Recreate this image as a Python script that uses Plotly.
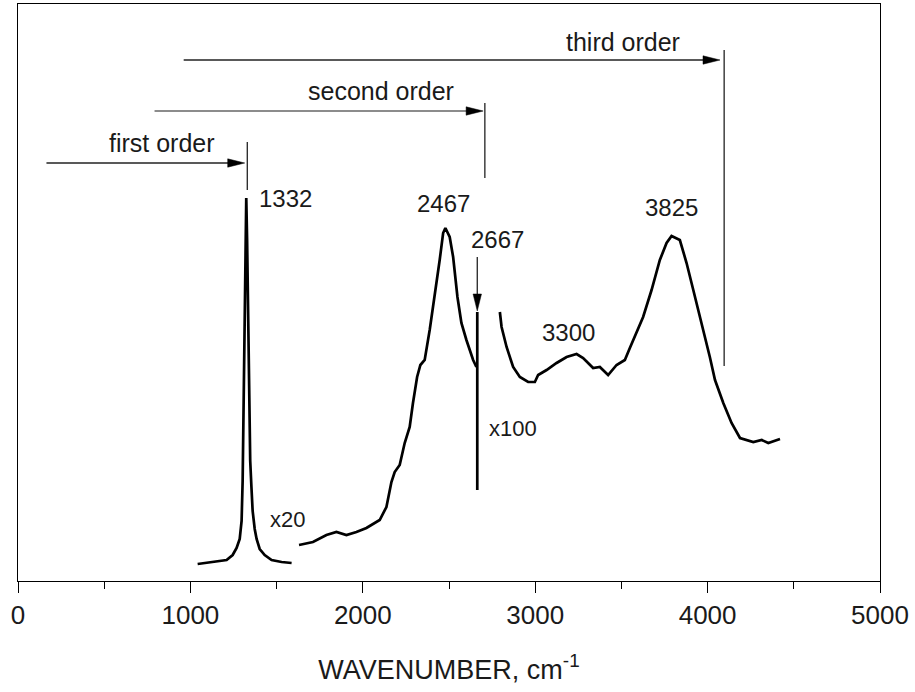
import plotly.graph_objects as go

# ---- data (wavenumber, cm^-1 ; intensity in arbitrary units) ----
first_wn = [1042, 1140, 1210, 1245, 1268, 1286, 1297, 1303, 1309, 1315, 1320, 1324,
            1329, 1335, 1341, 1347, 1354, 1361, 1373, 1384, 1402, 1431, 1471, 1529, 1587]
first_int = [17, 19, 21, 26, 33, 42, 60, 100, 170, 250, 330, 383,
             340, 250, 170, 120, 94, 70, 52, 42, 32, 26, 21, 19, 18]

second_wn = [1630, 1711, 1789, 1847, 1905, 1963, 2021, 2098, 2137, 2166, 2185, 2214,
             2243, 2272, 2291, 2315, 2334, 2359, 2388, 2417, 2446, 2466, 2479, 2504,
             2524, 2549, 2572, 2601, 2640, 2659]
second_int = [36, 39, 46, 49, 46, 49, 53, 61, 74, 99, 109, 116,
              138, 154, 178, 204, 216, 221, 251, 284, 321, 348, 353, 344,
              324, 284, 258, 241, 221, 214]

line2667_wn = [2664, 2664]
line2667_int = [269, 91]

third_wn = [2795, 2805, 2834, 2872, 2911, 2959, 2998, 3017, 3066, 3124, 3182, 3240,
            3278, 3336, 3375, 3423, 3472, 3520, 3549, 3578, 3626, 3675, 3723, 3762,
            3791, 3839, 3878, 3917, 3965, 4013, 4043, 4091, 4139, 4188, 4265, 4314,
            4352, 4420]
third_int = [269, 254, 234, 214, 204, 199, 199, 206, 211, 218, 224, 227,
             223, 213, 214, 206, 216, 221, 233, 244, 264, 291, 321, 338,
             345, 341, 318, 291, 258, 224, 201, 178, 158, 143, 139, 141,
             138, 142]

# order arrows: label, label x, label y, arrow start, arrow tip, arrow y, marker x, marker y0, marker y1
order_labels = ["first order", "second order", "third order"]
order_label_x = [833, 2104, 3508]
order_label_y = [438, 490, 539]
order_arrow_start = [165, 792, 961]
order_arrow_tip = [1315, 2698, 4072]
order_arrow_y = [418, 470, 521]
order_marker_x = [1330, 2708, 4096]
order_marker_y0 = [439, 478, 531]
order_marker_y1 = [391, 403, 215]
order_colors = ["#222222", "#666666", "#222222"]

peak_labels = ["1332", "2467", "2667", "3300", "3825"]
peak_label_x = [1553, 2470, 2783, 3195, 3793]
peak_label_y = [383, 378, 342, 249, 374]

scale_labels = ["x20", "x100"]
scale_label_x = [1564, 2870]
scale_label_y = [62, 153]

down_arrow_x = 2664
down_arrow_y = [324, 270]

x_ticks = [0, 1000, 2000, 3000, 4000, 5000]

FONT = "Liberation Sans, Arial, sans-serif"
TXT = "#1a1a1a"

fig = go.Figure()
for xs, ys in [(first_wn, first_int), (second_wn, second_int),
               (line2667_wn, line2667_int), (third_wn, third_int)]:
    fig.add_trace(go.Scatter(x=xs, y=ys, mode="lines",
                             line=dict(color="black", width=2.7),
                             showlegend=False, hoverinfo="skip"))

shapes = []
annotations = []
for i in range(3):
    shapes.append(dict(type="line", xref="x", yref="y",
                       x0=order_arrow_start[i], x1=order_arrow_tip[i] - 40,
                       y0=order_arrow_y[i], y1=order_arrow_y[i],
                       line=dict(color=order_colors[i], width=1.3)))
    shapes.append(dict(type="path", xref="x", yref="y",
                       xsizemode="pixel", ysizemode="pixel",
                       xanchor=order_arrow_tip[i], yanchor=order_arrow_y[i],
                       path="M0,0 L-17,4.2 L-17,-4.2 Z",
                       fillcolor="black", line=dict(color="black", width=0.5)))
    shapes.append(dict(type="line", xref="x", yref="y",
                       x0=order_marker_x[i], x1=order_marker_x[i],
                       y0=order_marker_y0[i], y1=order_marker_y1[i],
                       line=dict(color="#222222", width=1.3)))
    annotations.append(dict(x=order_label_x[i], y=order_label_y[i], xref="x", yref="y",
                            text=order_labels[i], showarrow=False,
                            xanchor="center", yanchor="middle",
                            font=dict(family=FONT, size=25, color=TXT)))

# down arrow for 2667
shapes.append(dict(type="line", xref="x", yref="y",
                   x0=down_arrow_x, x1=down_arrow_x,
                   y0=down_arrow_y[0], y1=down_arrow_y[1] + 10,
                   line=dict(color="#222222", width=1.3)))
shapes.append(dict(type="path", xref="x", yref="y",
                   xsizemode="pixel", ysizemode="pixel",
                   xanchor=down_arrow_x, yanchor=down_arrow_y[1],
                   path="M0,0 L-4.2,17 L4.2,17 Z",
                   fillcolor="black", line=dict(color="black", width=0.5)))

for t, x, y in zip(peak_labels, peak_label_x, peak_label_y):
    annotations.append(dict(x=x, y=y, xref="x", yref="y", text=t, showarrow=False,
                            xanchor="center", yanchor="middle",
                            font=dict(family=FONT, size=24, color=TXT)))
for t, x, y in zip(scale_labels, scale_label_x, scale_label_y):
    annotations.append(dict(x=x, y=y, xref="x", yref="y", text=t, showarrow=False,
                            xanchor="center", yanchor="middle",
                            font=dict(family=FONT, size=22, color=TXT)))

fig.update_layout(
    width=915, height=692,
    margin=dict(l=18, r=35, t=4, b=111),
    paper_bgcolor="white", plot_bgcolor="white",
    shapes=shapes, annotations=annotations,
    showlegend=False,
    xaxis=dict(range=[0, 5000], tickvals=x_ticks, ticktext=[str(v) for v in x_ticks],
               ticks="outside", ticklen=11, tickwidth=1.3, tickcolor="black",
               minor=dict(dtick=500, ticks="outside", ticklen=7, tickwidth=1.3, tickcolor="black"),
               showline=True, linecolor="black", linewidth=1.3, mirror=True,
               showgrid=False, zeroline=False,
               tickfont=dict(family=FONT, size=26, color=TXT),
               title=dict(text="WAVENUMBER, cm<sup>-1</sup>",
                          font=dict(family=FONT, size=27, color=TXT), standoff=30)),
    yaxis=dict(range=[0, 577], showticklabels=False, ticks="",
               showline=True, linecolor="black", linewidth=1.3, mirror=True,
               showgrid=False, zeroline=False),
)

fig.write_html("out.html")
